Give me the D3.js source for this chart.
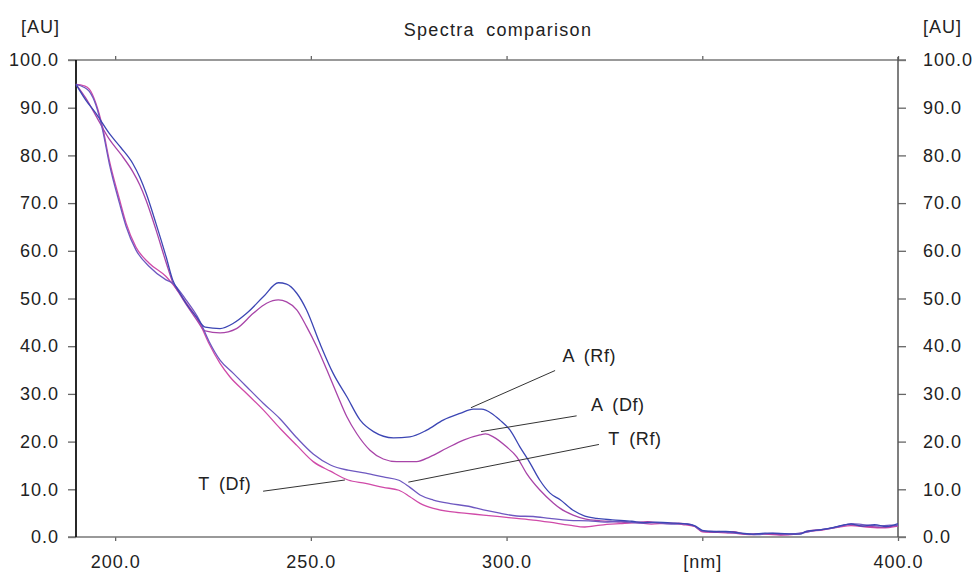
<!DOCTYPE html>
<html>
<head>
<meta charset="utf-8">
<script src="https://cdn.jsdelivr.net/npm/d3@7"></script>
<style>
  body { margin: 0; background: #fff; }
  svg text { font-family: "Liberation Sans", Arial, Helvetica, sans-serif; fill: #222; }
</style>
</head>
<body>
<div id="chart"></div>
<script>
// wavelength [nm] / absorbance [AU] pairs
var aRf = [[190,94.9],[192.5,91.6],[195.1,88.8],[198.5,84.6],[201.5,81.6],[204.5,78.3],[206.3,75.4],[207.9,72.1],[210.4,65.8],[213.0,58.8],[214.7,53.9],[216.5,51.2],[218.1,49.0],[220.7,46.2],[223.0,44.0],[226.8,43.7],[230.2,44.8],[233.6,46.9],[237.9,50.4],[241.7,53.3],[243.8,53.0],[246.4,51.1],[248.9,47.6],[252.3,40.6],[255.7,34.3],[259.2,29.4],[262.6,24.5],[266.0,22.1],[271.1,20.8],[275.3,21.0],[279.6,22.4],[283.8,24.5],[288.1,25.9],[291.5,26.8],[293.6,26.8],[296.2,25.9],[298.3,24.5],[300.9,22.4],[303.4,18.9],[306.0,15.5],[308.5,11.9],[311.1,9.2],[313.7,7.8],[317,5.6],[320,4.4],[323,3.9],[327,3.6],[332,3.3],[335,3.0],[338,3.1],[343,2.9],[346,2.7],[348,2.4],[350,1.4],[353,1.1],[356,1.2],[360,0.8],[363,0.6],[366,0.8],[371,0.7],[375,0.6],[376.5,1.2],[380,1.5],[383,1.9],[386,2.5],[388,2.7],[391,2.3],[394,2.6],[397,2.2],[400,2.8]];
var aDf = [[190,94.9],[192.5,92.0],[195.1,88.3],[198.5,83.4],[201.5,80.2],[204.5,76.6],[206.3,73.8],[207.9,70.6],[210.4,64.5],[213.0,57.6],[214.7,53.4],[216.5,50.9],[218.1,48.8],[220.7,45.7],[223.0,43.2],[226.8,42.8],[231.0,43.7],[235.3,46.9],[238.7,49.0],[241.7,49.7],[243.8,49.3],[246.4,47.6],[248.9,44.1],[251.5,39.9],[254.1,35.0],[256.6,30.1],[259.2,25.2],[261.7,21.7],[265.1,18.2],[268.5,16.35],[271.9,15.8],[277.0,15.8],[280.4,16.8],[284.7,18.6],[289.0,20.3],[293.2,21.4],[294.6,21.6],[296.6,21.0],[300.0,18.9],[302.6,16.8],[305.1,13.35],[308.5,9.85],[312.0,7.1],[313.7,6.0],[317,4.6],[320,3.8],[324,3.4],[328,3.2],[332,3.0],[336,3.2],[340,2.8],[344,2.9],[348,2.3],[350,1.2],[354,1.0],[358,1.1],[361,0.6],[365,0.7],[370,0.5],[375,0.7],[377,1.3],[381,1.6],[384,2.0],[387,2.6],[390,2.4],[393,2.2],[396,2.0],[400,2.5]];
var tRf = [[190,94.9],[192.0,94.3],[193.4,93.4],[195.1,90.5],[196.8,85.3],[198.5,78.3],[201.1,70.0],[202.8,65.1],[205.3,60.2],[208.7,56.7],[213.0,53.9],[214.7,53.2],[218.1,49.7],[221.5,45.5],[224.0,41.0],[226.8,37.1],[230.2,34.3],[233.6,31.5],[237.9,28.0],[242.1,24.8],[246.4,20.8],[250.6,17.4],[255.0,15.1],[259.5,14.0],[264.0,13.4],[268.5,12.6],[272.5,11.9],[275.3,10.4],[277.9,8.8],[281.3,7.75],[285.6,7.0],[289.8,6.5],[294.1,5.7],[298.3,5.0],[302.6,4.4],[306.8,4.3],[311,3.9],[316,3.5],[321,3.4],[325,3.1],[329,3.3],[334,2.9],[338,3.0],[342,2.7],[346,2.8],[348,2.3],[350,1.3],[354,1.2],[357,0.9],[361,0.7],[364,0.5],[368,0.8],[372,0.6],[376,0.9],[379,1.4],[382,1.7],[385,2.2],[388,2.8],[391,2.6],[395,2.3],[398,2.5],[400,2.4]];
var tDf = [[190,94.9],[192.0,94.6],[193.4,93.9],[195.1,90.9],[196.8,85.9],[198.5,79.0],[201.1,70.8],[202.8,65.8],[205.3,60.8],[208.7,57.4],[213.0,54.6],[214.7,53.0],[218.1,49.2],[221.5,45.0],[224.0,40.5],[226.8,36.4],[229.3,33.6],[233.6,30.1],[237.9,26.6],[242.1,22.8],[246.4,19.2],[250.6,15.8],[255.0,13.8],[259.5,11.95],[264.0,11.25],[268.5,10.4],[272.5,9.8],[275.3,8.45],[277.9,7.05],[281.3,6.0],[285.6,5.3],[289.8,4.95],[294.1,4.6],[298.3,4.25],[302.6,3.9],[306.8,3.55],[311,3.1],[316,2.5],[320,2.1],[324,2.5],[329,2.8],[333,3.0],[337,2.7],[341,2.9],[345,2.6],[348,2.2],[350,1.1],[354,1.0],[358,0.8],[362,0.5],[366,0.6],[370,0.4],[374,0.6],[377,1.1],[381,1.5],[385,2.1],[388,2.4],[392,2.1],[396,1.9],[400,2.3]];

var seriesNames = ["A (Rf)", "A (Df)", "T (Rf)", "T (Df)"];
var seriesColors = ["#3c46b4", "#a844a8", "#6e58c0", "#d04aa8"];

var yTicks = [0, 10, 20, 30, 40, 50, 60, 70, 80, 90, 100];
var xTicks = [200, 250, 300, 350, 400];

// label text position and leader line (from -> to), in nm / AU
var labelAt = [[314.3, 36.7], [321.6, 26.4], [326.0, 19.3], [221.2, 9.85]];
var leaderFrom = [[312.4, 34.9], [317.9, 25.4], [323.6, 19.4], [237.8, 9.6]];
var leaderTo = [[290.9, 27.1], [293.5, 22.1], [274.9, 11.5], [258.7, 11.95]];

var width = 975, height = 573;
var plotLeft = 76, plotRight = 898, plotTop = 60, plotBottom = 537;

var svg = d3.select("#chart").append("svg")
	.attr("width", width)
	.attr("height", height);

var x = d3.scaleLinear().domain([190, 400]).range([plotLeft, plotRight]);
var y = d3.scaleLinear().domain([0, 100]).range([plotBottom, plotTop]);

var fmt = function(d) { return d.toFixed(1); };

// left axis
svg.append("g")
	.attr("transform", "translate(" + plotLeft + ",0)")
	.call(d3.axisLeft(y).tickValues(yTicks).tickSize(8).tickPadding(9).tickFormat(fmt))
	.call(function(g) { g.select(".domain").remove(); });

// right axis
svg.append("g")
	.attr("transform", "translate(" + plotRight + ",0)")
	.call(d3.axisRight(y).tickValues(yTicks).tickSize(8).tickPadding(17).tickFormat(fmt))
	.call(function(g) { g.select(".domain").remove(); });

// bottom axis, 350 carries the unit instead of a number
svg.append("g")
	.attr("transform", "translate(0," + plotBottom + ")")
	.call(d3.axisBottom(x).tickValues(xTicks).tickSize(4).tickPadding(14)
		.tickFormat(function(d) { return d === 350 ? "[nm]" : fmt(d); }))
	.call(function(g) { g.select(".domain").remove(); });

// top axis, ticks only
svg.append("g")
	.attr("transform", "translate(0," + plotTop + ")")
	.call(d3.axisTop(x).tickValues(xTicks).tickSize(4).tickFormat(""))
	.call(function(g) { g.select(".domain").remove(); });

svg.selectAll(".tick line").attr("stroke", "#666").attr("stroke-width", 1.3);
svg.selectAll(".tick text")
	.attr("font-size", 18)
	.style("letter-spacing", "1px")
	.attr("fill", "#222");

// frame
svg.append("line").attr("x1", plotLeft - 8).attr("x2", plotRight + 8).attr("y1", plotTop).attr("y2", plotTop)
	.attr("stroke", "#777").attr("stroke-width", 1.5);
svg.append("line").attr("x1", plotLeft - 8).attr("x2", plotRight + 8).attr("y1", plotBottom).attr("y2", plotBottom)
	.attr("stroke", "#777").attr("stroke-width", 1.5);
svg.append("line").attr("x1", plotRight).attr("x2", plotRight).attr("y1", plotTop - 3).attr("y2", plotBottom)
	.attr("stroke", "#555").attr("stroke-width", 1.5);
svg.append("line").attr("x1", plotLeft).attr("x2", plotLeft).attr("y1", plotTop).attr("y2", plotBottom)
	.attr("stroke", "#111").attr("stroke-width", 1.8);

// titles
svg.append("text").attr("x", 498).attr("y", 36).attr("text-anchor", "middle")
	.attr("font-size", 18).style("letter-spacing", "1.3px").style("word-spacing", "5px")
	.text("Spectra comparison");
svg.append("text").attr("x", 60).attr("y", 33).attr("text-anchor", "end")
	.attr("font-size", 18).style("letter-spacing", "1px").text("[AU]");
svg.append("text").attr("x", 923).attr("y", 33).attr("text-anchor", "start")
	.attr("font-size", 18).style("letter-spacing", "1px").text("[AU]");

// spectra
var line = d3.line()
	.x(function(d) { return x(d[0]); })
	.y(function(d) { return y(d[1]); })
	.curve(d3.curveMonotoneX);

var allSeries = [aRf, aDf, tRf, tDf];
// draw Df first so the Rf traces sit on top
var order = [3, 1, 2, 0];
svg.selectAll(".spectrum")
	.data(order)
	.enter().append("path")
	.attr("class", "spectrum")
	.attr("d", function(i) { return line(allSeries[i]); })
	.attr("fill", "none")
	.attr("stroke", function(i) { return seriesColors[i]; })
	.attr("stroke-width", 1.3);

// labels with leader lines
var labels = svg.selectAll(".label")
	.data(seriesNames)
	.enter().append("g")
	.attr("class", "label");

labels.append("line")
	.attr("x1", function(d, i) { return x(leaderFrom[i][0]); })
	.attr("y1", function(d, i) { return y(leaderFrom[i][1]); })
	.attr("x2", function(d, i) { return x(leaderTo[i][0]); })
	.attr("y2", function(d, i) { return y(leaderTo[i][1]); })
	.attr("stroke", "#333")
	.attr("stroke-width", 1);

labels.append("text")
	.attr("x", function(d, i) { return x(labelAt[i][0]); })
	.attr("y", function(d, i) { return y(labelAt[i][1]); })
	.attr("font-size", 18)
	.style("letter-spacing", "0.6px")
	.style("word-spacing", "4px")
	.text(function(d) { return d; });
</script>
</body>
</html>
